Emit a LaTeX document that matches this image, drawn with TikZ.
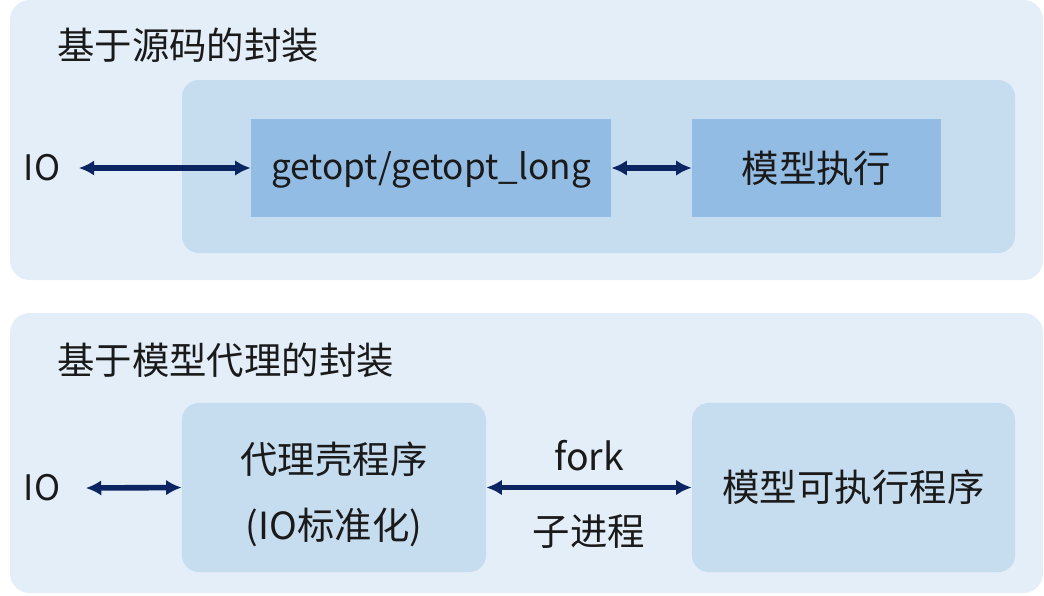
\documentclass[tikz,border=0pt]{standalone}
\usepackage{fontspec}
\setmainfont{Noto Sans CJK SC}
\usetikzlibrary{arrows.meta,positioning}
\definecolor{outerblue}{HTML}{E3EEF8}
\definecolor{innerblue}{HTML}{C6DCEF}
\definecolor{boxblue}{HTML}{93BCE4}
\definecolor{arrowblue}{HTML}{0B2563}
\definecolor{txtgray}{HTML}{1A1A1A}

\tikzset{
  panel/.style={fill=outerblue, rounded corners=14pt},
  innerpanel/.style={fill=innerblue, rounded corners=12pt},
  boxnode/.style={rectangle, fill=boxblue, inner sep=0pt, minimum height=2.45cm},
  roundbox/.style={rectangle, fill=innerblue, rounded corners=12pt, inner sep=0pt, minimum height=4.225cm},
  lbl/.style={text=txtgray, font=\fontsize{26.6}{48}\selectfont, inner sep=0pt},
  latin/.style={font=\fontsize{25}{30}\selectfont},
  biarrow/.style={draw=arrowblue, line width=4pt, arrows={Latex[length=11pt,width=11pt]-Latex[length=11pt,width=11pt]}}
}

\begin{document}
\begin{tikzpicture}[x=0.025cm, y=-0.025cm]
  \useasboundingbox (0,0) rectangle (1044,595);

  % source wrapper
  \fill[panel] (10,0) rectangle (1043,280);
  \fill[innerpanel] (182,80) rectangle (1015,253);
  \node [lbl, anchor=west] (title1) at (57,45) {基于源码的封装};
  \node [lbl, latin] (io1) at (42,168) {IO};
  \node [boxnode, minimum width=9cm, lbl, latin, text depth=0pt, text height=17pt] (getopt) at (431,168) {getopt/getopt\_long};
  \node [boxnode, minimum width=6.225cm, lbl] (run) at (816.5,168) {模型执行};
  \draw [biarrow] ([xshift=13pt]io1.east) -- (getopt.west |- io1);
  \draw [biarrow] (getopt.east |- run) -- (run.west);

  % proxy wrapper
  \fill[panel] (10,313) rectangle (1043,593);
  \node [lbl, anchor=west] (title2) at (57,360) {基于模型代理的封装};
  \node [lbl, latin] (io2) at (42,488) {IO};
  \node [roundbox, minimum width=7.6cm, lbl, align=center] (proxy) at (334,487.5) {\rule{0pt}{32pt}代理壳程序\\[-1pt](IO标准化)};
  \node [roundbox, minimum width=8.075cm, lbl] (exec) at (853.5,487.5) {模型可执行程序};
  \draw [biarrow] ([xshift=18pt]io2.east) -- (proxy.west);
  \draw [biarrow] (proxy.east) -- (exec.west)
    node [lbl, midway, above=10pt] {fork}
    node [lbl, midway, below=17pt] {子进程};
\end{tikzpicture}
\end{document}
